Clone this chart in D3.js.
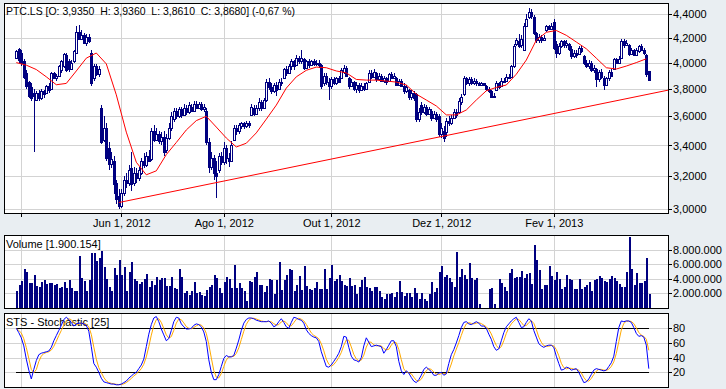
<!DOCTYPE html>
<html>
<head>
<meta charset="utf-8">
<script src="https://cdn.jsdelivr.net/npm/d3@7"></script>
<style>
  body { margin: 0; background: #e9eef2; }
  svg { display: block; font-family: "Liberation Sans", Arial, sans-serif; font-size: 11px; }
</style>
</head>
<body>
<svg id="chart" width="726" height="389"></svg>
<script>
// daily candles, PTC.LS
const opens = [
  4.04,4.11,4.08,4.01,3.92,3.85,3.81,3.77,3.72,3.77, 3.73,3.78,3.77,3.82,3.80,3.92,3.88,3.90,3.94,3.97,
  4.06,4.01,3.95,4.01,4.08,4.25,4.19,4.22,4.16,4.21, 4.08,3.88,3.97,3.91,3.66,3.44,3.52,3.38,3.28,3.30,
  3.16,3.08,3.02,3.10,3.18,3.16,3.25,3.16,3.22,3.19, 3.22,3.30,3.27,3.33,3.31,3.50,3.44,3.48,3.43,3.46,
  3.37,3.45,3.52,3.58,3.64,3.60,3.65,3.61,3.66,3.63, 3.67,3.64,3.69,3.66,3.69,3.65,3.64,3.42,3.26,3.32,
  3.22,3.24,3.33,3.29,3.38,3.32,3.30,3.44,3.52,3.50, 3.53,3.55,3.53,3.55,3.61,3.66,3.62,3.66,3.70,3.66,
  3.72,3.85,3.81,3.78,3.83,3.80,3.85,3.88,3.95,3.92, 3.97,4.01,3.98,4.04,4.01,4.03,3.96,4.01,3.98,4.01,
  3.99,4.00,3.98,3.84,3.90,3.85,3.82,3.87,3.84,3.88, 3.88,3.93,3.96,3.88,3.82,3.85,3.80,3.83,3.79,3.82,
  3.80,3.85,3.92,3.89,3.92,3.87,3.90,3.86,3.88,3.86, 3.91,3.88,3.88,3.83,3.86,3.82,3.78,3.79,3.74,3.77,
  3.76,3.58,3.68,3.63,3.67,3.62,3.64,3.59,3.62,3.60, 3.48,3.50,3.49,3.57,3.55,3.59,3.63,3.63,3.70,3.76,
  3.88,3.84,3.87,3.84,3.86,3.84,3.83,3.84,3.82,3.80, 3.78,3.74,3.79,3.84,3.82,3.86,3.86,3.89,3.89,3.97,
  4.15,4.17,4.14,4.10,4.30,4.37,4.42,4.37,4.24,4.18, 4.21,4.18,4.26,4.30,4.27,4.33,4.15,4.08,4.13,4.17,
  4.14,4.15,4.11,4.05,4.08,4.07,4.12,4.05,4.00,3.97, 4.00,3.94,3.95,3.87,3.93,3.88,3.83,3.88,3.93,3.95,
  4.03,4.00,4.04,4.17,4.14,4.14,4.07,4.10,4.06,4.09, 4.13,4.10,4.06,3.935
];
const highs = [
  4.10,4.12,4.10,4.03,3.94,3.86,3.84,3.80,3.78,3.79, 3.80,3.79,3.83,3.84,3.93,3.93,3.91,3.98,4.02,4.08,
  4.08,4.03,4.02,4.10,4.30,4.31,4.26,4.24,4.23,4.23, 4.10,3.99,3.99,3.97,3.68,3.60,3.55,3.42,3.36,3.33,
  3.18,3.12,3.12,3.20,3.22,3.27,3.36,3.26,3.25,3.26, 3.32,3.35,3.36,3.37,3.52,3.54,3.52,3.50,3.49,3.50,
  3.48,3.55,3.63,3.66,3.66,3.67,3.67,3.69,3.68,3.70, 3.69,3.71,3.71,3.70,3.70,3.69,3.66,3.45,3.36,3.34,
  3.30,3.35,3.36,3.42,3.40,3.35,3.43,3.54,3.54,3.55, 3.56,3.56,3.57,3.57,3.69,3.68,3.68,3.73,3.72,3.73,
  3.87,3.88,3.84,3.84,3.85,3.87,3.88,3.96,3.97,3.99, 4.03,4.02,4.06,4.05,4.10,4.04,4.02,4.03,4.02,4.03,
  4.02,4.02,3.99,3.92,3.92,3.88,3.89,3.89,3.89,3.90, 3.96,3.98,3.97,3.89,3.87,3.86,3.85,3.84,3.84,3.84,
  3.85,3.94,3.94,3.95,3.93,3.92,3.91,3.90,3.89,3.92, 3.93,3.92,3.89,3.87,3.87,3.84,3.83,3.80,3.79,3.78,
  3.77,3.66,3.70,3.69,3.68,3.67,3.65,3.64,3.63,3.62, 3.55,3.53,3.59,3.60,3.61,3.65,3.65,3.73,3.76,3.90,
  3.89,3.89,3.89,3.88,3.87,3.85,3.85,3.84,3.83,3.81, 3.79,3.77,3.86,3.85,3.88,3.88,3.91,3.91,3.98,4.15,
  4.20,4.23,4.22,4.32,4.40,4.45,4.44,4.39,4.25,4.23, 4.22,4.22,4.31,4.31,4.32,4.36,4.17,4.16,4.18,4.18,
  4.18,4.16,4.13,4.10,4.10,4.13,4.14,4.06,4.02,4.02, 4.01,3.98,3.96,3.94,3.95,3.90,3.89,3.94,3.95,4.04,
  4.04,4.05,4.19,4.19,4.18,4.15,4.12,4.11,4.12,4.14, 4.15,4.12,4.07,3.936
];
const lows = [
  4.03,4.00,3.97,3.87,3.80,3.73,3.71,3.36,3.71,3.71, 3.72,3.73,3.76,3.77,3.79,3.87,3.86,3.89,3.92,3.96,
  3.93,3.93,3.94,4.00,4.07,4.18,4.18,4.15,4.13,4.16, 3.82,3.86,3.90,3.89,3.41,3.42,3.30,3.24,3.25,3.09,
  3.03,3.00,3.01,3.08,3.13,3.14,3.11,3.14,3.16,3.17, 3.21,3.25,3.26,3.29,3.30,3.42,3.43,3.41,3.40,3.33,
  3.35,3.44,3.50,3.56,3.58,3.59,3.59,3.60,3.61,3.62, 3.63,3.63,3.65,3.65,3.64,3.63,3.40,3.22,3.24,3.18,
  3.07,3.22,3.27,3.27,3.28,3.26,3.29,3.43,3.47,3.48, 3.51,3.51,3.52,3.52,3.60,3.60,3.61,3.64,3.64,3.65,
  3.70,3.79,3.76,3.77,3.75,3.79,3.82,3.87,3.90,3.91, 3.94,3.94,3.97,3.99,3.99,3.94,3.95,3.96,3.97,3.97,
  3.97,3.96,3.80,3.82,3.83,3.72,3.80,3.83,3.83,3.84, 3.87,3.91,3.89,3.80,3.81,3.78,3.77,3.77,3.78,3.78,
  3.79,3.84,3.87,3.88,3.85,3.86,3.85,3.84,3.83,3.85, 3.87,3.87,3.82,3.82,3.81,3.76,3.77,3.72,3.72,3.71,
  3.56,3.56,3.61,3.62,3.60,3.61,3.57,3.58,3.56,3.46, 3.45,3.42,3.46,3.53,3.54,3.58,3.59,3.62,3.68,3.75,
  3.83,3.82,3.83,3.83,3.82,3.82,3.82,3.82,3.78,3.77, 3.73,3.73,3.78,3.80,3.81,3.84,3.85,3.87,3.88,3.96,
  4.13,4.12,4.12,4.09,4.29,4.36,4.36,4.22,4.16,4.16, 4.16,4.17,4.25,4.26,4.26,4.10,4.04,4.06,4.12,4.12,
  4.12,4.09,4.03,4.04,4.04,4.06,4.08,3.98,3.96,3.95, 3.93,3.92,3.81,3.85,3.87,3.79,3.82,3.86,3.89,3.94,
  3.99,3.99,4.03,4.12,4.13,4.05,4.06,4.05,4.05,4.08, 4.09,4.06,3.89,3.861
];
const closes = [
  4.09,4.02,4.00,3.89,3.82,3.75,3.73,3.75,3.77,3.73, 3.78,3.76,3.82,3.79,3.92,3.88,3.90,3.97,4.01,4.07,
  3.94,3.95,4.00,4.09,4.25,4.19,4.22,4.16,4.21,4.17, 3.84,3.97,3.91,3.95,3.42,3.52,3.32,3.28,3.31,3.15,
  3.06,3.02,3.10,3.18,3.16,3.24,3.15,3.22,3.19,3.24, 3.30,3.27,3.33,3.30,3.50,3.44,3.48,3.43,3.46,3.36,
  3.45,3.52,3.60,3.64,3.60,3.65,3.61,3.66,3.63,3.68, 3.64,3.69,3.66,3.69,3.65,3.67,3.42,3.26,3.32,3.22,
  3.20,3.33,3.29,3.38,3.32,3.30,3.40,3.52,3.50,3.54, 3.55,3.53,3.55,3.54,3.67,3.62,3.66,3.70,3.66,3.72,
  3.85,3.81,3.78,3.83,3.79,3.85,3.84,3.95,3.92,3.97, 4.01,3.97,4.04,4.01,4.04,3.96,4.01,3.98,4.01,3.99,
  4.00,3.98,3.82,3.90,3.85,3.82,3.87,3.84,3.88,3.85, 3.94,3.96,3.90,3.82,3.85,3.80,3.83,3.79,3.82,3.80,
  3.84,3.92,3.89,3.93,3.87,3.90,3.86,3.88,3.85,3.91, 3.88,3.90,3.83,3.86,3.82,3.78,3.81,3.74,3.77,3.73,
  3.58,3.63,3.63,3.67,3.62,3.65,3.59,3.62,3.58,3.48, 3.52,3.45,3.57,3.55,3.59,3.63,3.61,3.71,3.74,3.88,
  3.84,3.87,3.84,3.86,3.84,3.83,3.84,3.83,3.80,3.78, 3.74,3.75,3.84,3.81,3.86,3.85,3.89,3.88,3.97,4.13,
  4.18,4.13,4.19,4.30,4.36,4.42,4.38,4.24,4.18,4.21, 4.18,4.20,4.30,4.27,4.30,4.12,4.08,4.13,4.17,4.14,
  4.16,4.11,4.05,4.08,4.06,4.12,4.09,4.00,3.97,4.00, 3.94,3.96,3.87,3.93,3.89,3.83,3.88,3.93,3.90,4.03,
  4.00,4.03,4.17,4.14,4.16,4.07,4.10,4.06,4.10,4.13, 4.10,4.08,3.91,3.868
];
// volume in millions of shares
const volumeM = [
  2.3,3.15,3.7,5.4,4.9,3.4,3.4,4.5,3.05,2.9, 3.5,3.8,3.3,3.4,3.4,3.1,3.3,2.7,2.9,3.5,
  2.7,3.9,2.8,2.3,2.3,7.1,4.1,3.7,2.3,3.9, 7.5,7.5,6.4,6.8,7.8,5.6,4.0,2.9,2.3,5.5,
  4.5,6.6,4.5,5.6,2.3,5.0,6.3,4.0,3.7,3.3, 3.6,4.0,4.6,2.9,3.7,3.2,4.3,3.8,4.1,4.1,
  3.05,3.0,4.2,2.7,2.6,5.4,4.2,2.05,2.3,1.8, 2.3,3.5,2.0,2.25,1.8,1.6,2.4,2.9,3.15,4.5,
  4.1,2.8,2.05,3.5,4.3,4.0,2.8,5.9,2.7,3.4, 2.8,2.3,1.0,
  3.7,3.6,4.3,4.9,3.2,3.2,2.2,3.0,4.0,3.8, 1.95,3.8,6.3,2.4,3.8,4.5,5.3,5.2,2.3,3.15,
  4.4,2.4,5.8,3.0,2.6,2.4,2.8,3.5,2.6,2.6, 5.4,2.6,4.1,5.9,3.7,4.0,4.5,3.7,3.15,3.05,
  4.1,3.05,3.15,1.95,2.9,3.8,4.3,2.9,2.7,2.3, 2.9,2.9,2.3,1.5,1.2,1.95,1.95,2.1,1.5,2.2,
  3.7,2.2,1.7,2.1,2.1,1.5,2.8,2.1,1.2,2.1, 1.2,1.0,1.95,3.5,2.2,2.7,4.9,5.8,4.3,4.5,
  4.1,3.5,2.9,7.7,4.3,5.3,4.5,4.0,6.1,4.1, 3.9,4.1,0.6,
  0,0,0,2.6,2.8,0.6,0,
  4.0,3.45,2.85,2.3,4.75,5.35,4.15,4.25,4.25,5.1, 4.15,4.6,4.8,3.3,8.6,6.6,5.25,2.6,3.15,3.15,
  5.75,4.4,3.8,4.9,4.0,2.6,2.9,4.5,4.0,3.9, 2.55,2.6,4.0,2.6,2.9,3.15,3.6,2.3,3.8,4.0,
  4.35,4.1,3.75,3.6,4.0,4.4,4.1,3.75,3.3,2.9, 2.9,4.9,9.7,5.4,3.15,4.8,3.45,3.45,3.75,6.85,
  1.900154
];
// moving average, one reading every 4 bars
const maStep = 4;
const maVals = [
  4.00,3.98,3.946,3.89,3.83,3.84,3.935,4.035,4.076,3.99,
  3.755,3.49,3.29,3.21,3.235,3.34,3.42,3.505,3.57,3.60,
  3.525,3.45,3.39,3.415,3.485,3.58,3.68,3.805,3.89,3.94,
  3.965,3.96,3.935,3.92,3.87,3.865,3.865,3.858,3.85,3.828,
  3.76,3.717,3.674,3.61,3.61,3.645,3.717,3.785,3.81,3.828,
  3.91,4.02,4.18,4.245,4.26,4.22,4.165,4.11,4.035,3.96,
  3.95,3.973,4.00,4.03
];
// stochastic %K (25)
const stochK = [
  80,74,67,56,38,23,11,24,36,44, 46,47,48,49,54,63,70,77,84,92,
  95,92,88,83,86,87,87,86,84,76, 55,32,27,20,12,7,6,5,4,4,
  3,3,4,6,8,12,15,18,20,25, 30,38,55,72,85,94,96,89,79,71,
  63,66,77,89,95,94,86,82,79,79, 80,84,86,85,82,75,62,37,20,10,
  10,17,28,39,43,41,41,43,53,64, 77,87,92,94,94,93,91,90,89,89,
  89,90,87,82,84,89,93,88,82,80, 88,95,94,92,91,87,78,73,70,68,
  67,62,48,38,28,27,30,35,40,46, 55,69,68,54,42,37,36,34,40,56,
  67,61,55,56,57,56,55,46,51,57, 63,63,55,35,22,17,22,19,13,8,
  6,10,16,24,27,24,21,16,16,19, 20,16,18,32,44,51,60,70,81,88,
  89,86,85,87,89,87,83,83,80,72, 65,55,50,52,63,74,82,86,90,93,
  95,88,81,82,88,93,90,77,68,59, 56,54,56,57,57,54,42,32,23,24,
  27,26,23,24,25,20,13,6,7,11, 17,23,25,24,23,22,23,28,33,42,
  62,81,90,89,90,90,88,81,73,69, 70,68,57,25
];
// trend line anchors (bar index, price)
const trendIdx = [41, 170];
const trendVals = [3.04, 3.46];

const dateIdx = [2, 42, 83, 126, 170, 215];
const dateLabels = ["", "Jun 1, 2012", "Ago 1, 2012", "Out 1, 2012", "Dez 1, 2012", "Fev 1, 2013"];
const priceTicks = [3.0, 3.2, 3.4, 3.6, 3.8, 4.0, 4.2, 4.4];
const volTicks = [2, 4, 6, 8];
const stoTicks = [20, 40, 60, 80];

const FONT = '"Liberation Sans", Arial, sans-serif';
const NAVY = "#000080";
const svg = d3.select("#chart");
const n = closes.length;

const x = d3.scaleLinear().domain([0, n - 1]).range([16.3, 648.8]);
const px = i => Math.round(x(i));

const yP = d3.scaleLog().domain([3.0, 4.4]).range([209.3, 14]);
const yV = d3.scaleLinear().domain([0, 10]).range([308, 235]);
const yS = d3.scaleLinear().domain([0, 100]).range([387, 313.6]);

function panel(top, bottom, y, ticks, fmt, id) {
  const g = svg.append("g");
  g.append("rect").attr("x", 4).attr("y", top).attr("width", 664).attr("height", bottom - top).attr("fill", "#fff");

  const grid = g.append("g").attr("stroke", "#d3d3d3").attr("shape-rendering", "crispEdges");
  grid.selectAll("line.h").data(ticks).join("line").attr("class", "h")
    .attr("x1", 5).attr("x2", 668)
    .attr("y1", d => Math.round(y(d)) + 0.5).attr("y2", d => Math.round(y(d)) + 0.5);
  grid.selectAll("line.v").data(dateIdx).join("line").attr("class", "v")
    .attr("x1", d => px(d) + 0.5).attr("x2", d => px(d) + 0.5)
    .attr("y1", top + 1).attr("y2", bottom);

  const ax = g.append("g").attr("transform", "translate(668,0)")
    .call(d3.axisRight(y).tickValues(ticks).tickSize(4).tickPadding(1).tickFormat(fmt));
  ax.select(".domain").remove();
  ax.attr("font-family", FONT).attr("font-size", 11);
  ax.selectAll("line").attr("shape-rendering", "crispEdges");

  svg.append("clipPath").attr("id", id).append("rect")
    .attr("x", 5).attr("y", top + 1).attr("width", 663).attr("height", bottom - top - 1);
  const content = svg.append("g").attr("clip-path", `url(#${id})`);
  const frame = () => svg.append("rect")
    .attr("x", 4.5).attr("y", top + 0.5).attr("width", 664).attr("height", bottom - top)
    .attr("fill", "none").attr("stroke", "#000").attr("shape-rendering", "crispEdges");
  return { content, frame };
}

const comma = s => s.replace(".", ",");

// ---- price panel
const main = panel(3, 213, yP, priceTicks, d => comma(d3.format(".4f")(d)), "clipMain");

main.content.append("text").attr("x", 6).attr("y", 15)
  .attr("xml:space", "preserve").style("white-space", "pre")
  .attr("textLength", 289).attr("lengthAdjust", "spacingAndGlyphs")
  .text("PTC.LS [O: 3,9350  H: 3,9360  L: 3,8610  C: 3,8680] (-0,67 %)");

const bars = d3.range(n);
main.content.append("g").attr("stroke", NAVY).attr("shape-rendering", "crispEdges")
  .selectAll("line").data(bars).join("line")
  .attr("x1", i => px(i) + 0.5).attr("x2", i => px(i) + 0.5)
  .attr("y1", i => yP(highs[i])).attr("y2", i => yP(lows[i]));

main.content.append("g").attr("stroke", NAVY).attr("shape-rendering", "crispEdges")
  .selectAll("rect").data(bars).join("rect")
  .attr("x", i => px(i) - 0.5).attr("width", 2)
  .attr("y", i => Math.round(yP(Math.max(opens[i], closes[i]))) + 0.5)
  .attr("height", i => Math.max(0, Math.round(yP(Math.min(opens[i], closes[i]))) - Math.round(yP(Math.max(opens[i], closes[i])))))
  .attr("fill", i => closes[i] >= opens[i] ? "#fff" : NAVY);

main.content.append("path").datum(maVals)
  .attr("fill", "none").attr("stroke", "#ff0000").attr("stroke-width", 1)
  .attr("d", d3.line().x((d, k) => x(k * maStep)).y(d => yP(d)));

{
  const tx0 = x(trendIdx[0]), ty0 = yP(trendVals[0]);
  const tx1 = x(trendIdx[1]), ty1 = yP(trendVals[1]);
  const slope = (ty1 - ty0) / (tx1 - tx0);
  main.content.append("line")
    .attr("x1", tx0).attr("y1", ty0).attr("x2", 668).attr("y2", ty0 + slope * (668 - tx0))
    .attr("stroke", "#ff0000").attr("stroke-width", 1);
}
main.frame();

const xAxis = svg.append("g").attr("transform", "translate(0,213)")
  .call(d3.axisBottom(x).tickValues(dateIdx).tickSize(4).tickPadding(2)
    .tickFormat((d, k) => dateLabels[k]));
xAxis.select(".domain").remove();
xAxis.attr("font-family", FONT).attr("font-size", 11);
xAxis.selectAll("line").attr("shape-rendering", "crispEdges");

// ---- volume panel
const vol = panel(235, 308, yV, volTicks, d => d3.format(",")(d * 1e6).replace(/,/g, "."), "clipVol");
vol.content.append("text").attr("x", 6).attr("y", 248).text("Volume [1.900.154]");
vol.content.append("g").attr("fill", NAVY).attr("shape-rendering", "crispEdges")
  .selectAll("rect").data(bars.filter(i => volumeM[i] > 0)).join("rect")
  .attr("x", i => px(i) - 0.5).attr("width", 2)
  .attr("y", i => Math.round(yV(volumeM[i])))
  .attr("height", i => 308 - Math.round(yV(volumeM[i])));
vol.frame();

// ---- stochastic panel
const sto = panel(313, 387, yS, stoTicks, d => d, "clipSto");
sto.content.append("text").attr("x", 6).attr("y", 326).text("STS - Stochastic [25]");
sto.content.append("g").attr("stroke", "#000").attr("shape-rendering", "crispEdges")
  .selectAll("line").data([80, 20]).join("line")
  .attr("x1", x(0)).attr("x2", x(n - 1))
  .attr("y1", d => Math.round(yS(d)) + 0.5).attr("y2", d => Math.round(yS(d)) + 0.5);

const stochD = stochK.map((v, i) => d3.mean(stochK.slice(Math.max(0, i - 2), i + 1)));
const sLine = d3.line().x((d, i) => x(i)).y(d => yS(d));
sto.content.append("path").datum(stochD)
  .attr("fill", "none").attr("stroke", "#ffaa00").attr("stroke-width", 1).attr("d", sLine);
sto.content.append("path").datum(stochK)
  .attr("fill", "none").attr("stroke", "#0000ff").attr("stroke-width", 1).attr("d", sLine);
sto.frame();
</script>
</body>
</html>
